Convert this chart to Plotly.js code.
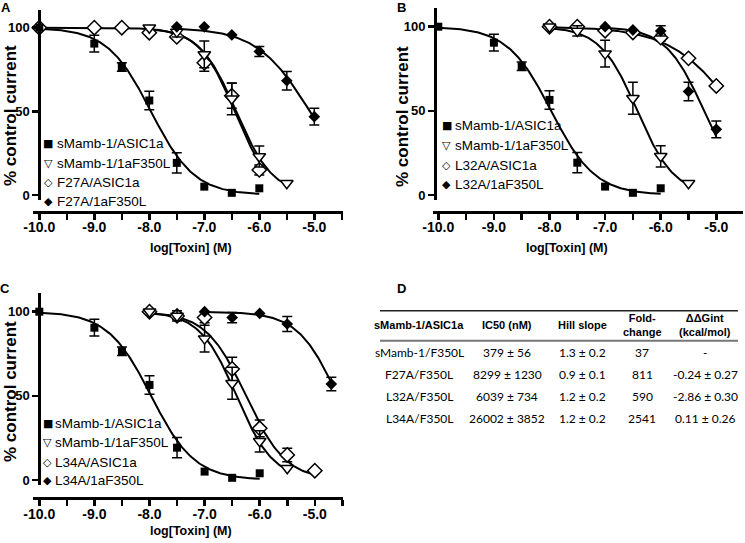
<!DOCTYPE html>
<html><head><meta charset="utf-8">
<script src="https://cdn.plot.ly/plotly-3.0.1.min.js"></script>
<style>html,body{margin:0;padding:0;background:#fff}</style>
</head><body><div id="chart" style="width:745px;height:543px"></div>
<script>
// ---------------- DATA ----------------
const xTickVals = [-10,-9.5,-9,-8.5,-8,-7.5,-7,-6.5,-6,-5.5,-5,-4.5];
const xTickText = ['-10.0','','-9.0','','-8.0','','-7.0','','-6.0','','-5.0',''];
const yTickVals = [0,50,100];
const yTickText = ['0','50','100'];
const panelLetters = ['A','B','C','D'];
const xTitleText = 'log[Toxin] (M)';
const yTitleText = '% control current';

// sMamb-1 / ASIC1a (wild type)
const wtAsicX = [-10,-9,-8.5,-8,-7.5,-7,-6.5,-6];
const wtAsicY = [100,90.5,76.5,56.5,19.2,5.0,1.3,4.0];
const wtAsicErr = [null,5,2.5,5.5,6,null,null,null];
const wtAsicFit = [-7.97,1.1,-10,-6];          // logIC50, Hill slope, from, to

// sMamb-1 / 1aF350L
const wtF350LX = [-8,-7.5,-7,-6.5,-6,-5.5];
const wtF350LY = [100,97.5,84,57.5,23,7];
const wtF350LErr = [null,3,8,9.5,6.3,null];
const wtF350LFit = [-6.42,1.3,-8,-5.5];

// F27A / ASIC1a
const f27aAsicX = [-10,-9,-8.5,-8,-7.5,-7,-6.5,-6];
const f27aAsicY = [100,100,100,97,94.5,79,59.3,15];
const f27aAsicErr = [null,null,null,null,null,5,7.5,3];
const f27aAsicFit = [-6.45,1.35,-10,-6];

// F27A / 1aF350L
const f27aF350LX = [-7.5,-7,-6.5,-6,-5.5,-5];
const f27aF350LY = [100.5,100.5,95.7,85.8,68.3,46.8];
const f27aF350LErr = [null,null,null,3,5.5,5];
const f27aF350LFit = [-5.08,0.9,-7.5,-5];

// L32A / ASIC1a
const l32aAsicX = [-8,-7.5,-7,-6.5,-6,-5.5,-5];
const l32aAsicY = [100,100,97.6,96.6,93.5,81.2,64.8];
const l32aAsicErr = [null,null,null,null,2,null,null];
const l32aAsicFit = [-4.64,0.74,-8,-5];

// L32A / 1aF350L
const l32aF350LX = [-7,-6.5,-6,-5.5,-5];
const l32aF350LY = [100,98,97.5,61.5,39];
const l32aF350LErr = [null,null,3,5.5,5];
const l32aF350LFit = [-5.22,1.25,-7,-5];

// L34A / ASIC1a
const l34aAsicX = [-8,-7.5,-7,-6.5,-6,-5.5,-5];
const l34aAsicY = [100,97.5,96.5,66,30.7,14.9,5.5];
const l34aAsicErr = [null,2,3,7,5,4,null];
const l34aAsicFit = [-6.25,1.2,-8,-5];

// L34A / 1aF350L
const l34aF350LX = [-7,-6.5,-6,-5.5,-4.7];
const l34aF350LY = [100,96.5,99,92.7,57];
const l34aF350LErr = [null,3,null,4.5,4];
const l34aF350LFit = [-4.585,1.2,-7,-4.7];

const legendA = ['sMamb-1/ASIC1a','sMamb-1/1aF350L','F27A/ASIC1a','F27A/1aF350L'];
const legendB = ['sMamb-1/ASIC1a','sMamb-1/1aF350L','L32A/ASIC1a','L32A/1aF350L'];
const legendC = ['sMamb-1/ASIC1a','sMamb-1/1aF350L','L34A/ASIC1a','L34A/1aF350L'];
const legendSymbols = ['\u25A0','\u25BD','\u25C7','\u25C6'];

// table D
const tableHeader = ['sMamb-1/ASIC1a','IC50 (nM)','Hill slope','Fold-<br>change','\u0394\u0394Gint<br>(kcal/mol)'];
const tableNames = ['sMamb-1/F350L','F27A/F350L','L32A/F350L','L34A/F350L'];
const tableIC50 = ['379 \u00b1 56','8299 \u00b1 1230','6039 \u00b1 734','26002 \u00b1 3852'];
const tableHill = ['1.3 \u00b1 0.2','0.9 \u00b1 0.1','1.2 \u00b1 0.2','1.2 \u00b1 0.2'];
const tableFold = ['37','811','590','2541'];
const tableDDG = ['-','-0.24 \u00b1 0.27','-2.86 \u00b1 0.30','0.11 \u00b1 0.26'];

// ---------------- BUILD ----------------
const W = 745, H = 543;
const SANS = '"Liberation Sans", Arial, sans-serif';
const TABLEF = 'Lato, "Open Sans", sans-serif';
const px = v => v / W, py = v => 1 - v / H;

const markerStyles = [
  {symbol:'square', size:8, color:'black'},
  {symbol:'triangle-down', size:11, color:'white', line:{color:'black', width:1.5}},
  {symbol:'diamond', size:11, color:'white', line:{color:'black', width:1.5}},
  {symbol:'diamond', size:9, color:'black'}
];

// pixel geometry of each panel (layout only)
const geom = [
  {x0:33, x1:343, xm10:39.3, xu:55, yTop:10, yBot:200, py100:27.7, py0:195, yAxisX:39.3, xAxisY:212,
   legY:[143.3,163.3,182.7,201], legSymX:48, legTxtX:55, xtX:191, xtY:248, ytX:10, ytY:116, letX:6, letY:8},
  {x0:433, x1:742.7, xm10:438.3, xu:55.6, yTop:8, yBot:200, py100:26.7, py0:195, yAxisX:435, xAxisY:212,
   legY:[126,145.7,165,184.3], legSymX:446.7, legTxtX:453.3, xtX:567, xtY:248, ytX:402, ytY:116, letX:401, letY:8},
  {x0:33, x1:343, xm10:39.3, xu:55.1, yTop:293, yBot:485, py100:311.7, py0:480, yAxisX:39.3, xAxisY:498.3,
   legY:[423.3,442.7,462.3,480.7], legSymX:47.7, legTxtX:53.3, xtX:191, xtY:531, ytX:10, ytY:392, letX:5, letY:288}
];

const panelSeries = [
  [[wtAsicX,wtAsicY,wtAsicErr,wtAsicFit],[wtF350LX,wtF350LY,wtF350LErr,wtF350LFit],[f27aAsicX,f27aAsicY,f27aAsicErr,f27aAsicFit],[f27aF350LX,f27aF350LY,f27aF350LErr,f27aF350LFit]],
  [[wtAsicX,wtAsicY,wtAsicErr,wtAsicFit],[wtF350LX,wtF350LY,wtF350LErr,wtF350LFit],[l32aAsicX,l32aAsicY,l32aAsicErr,l32aAsicFit],[l32aF350LX,l32aF350LY,l32aF350LErr,l32aF350LFit]],
  [[wtAsicX,wtAsicY,wtAsicErr,wtAsicFit],[wtF350LX,wtF350LY,wtF350LErr,wtF350LFit],[l34aAsicX,l34aAsicY,l34aAsicErr,l34aAsicFit],[l34aF350LX,l34aF350LY,l34aF350LErr,l34aF350LFit]]
];
const panelLegends = [legendA, legendB, legendC];

function fitCurve(fit) {
  const [logIC50, n, from, to] = fit;
  const xs = [], ys = [];
  const steps = Math.round((to - from) / 0.02);
  for (let i = 0; i <= steps; i++) {
    const x = from + (to - from) * i / steps;
    xs.push(x);
    ys.push(100 / (1 + Math.pow(10, n * (x - logIC50))));
  }
  return [xs, ys];
}

const traces = [];
const layout = {
  width: W, height: H, margin:{l:0,r:0,t:0,b:0},
  paper_bgcolor:'white', plot_bgcolor:'rgba(0,0,0,0)',
  showlegend:false, annotations:[], shapes:[]
};

function ann(text, x, y, font, extra) {
  layout.annotations.push(Object.assign({text, x:px(x), y:py(y), xref:'paper', yref:'paper',
    showarrow:false, font:Object.assign({color:'black'}, font), xanchor:'center', yanchor:'middle'}, extra||{}));
}

geom.forEach((g, k) => {
  const sfx = k === 0 ? '' : String(k + 1);
  const xa = 'x' + sfx, ya = 'y' + sfx;
  const yu = (g.py0 - g.py100) / 100;
  layout['xaxis' + sfx] = {
    domain:[px(g.x0), px(g.x1)],
    range:[-10 + (g.x0 - g.xm10) / g.xu, -10 + (g.x1 - g.xm10) / g.xu],
    anchor:'free', position:py(g.xAxisY),
    showline:true, linewidth:2.5, linecolor:'black', mirror:false,
    ticks:'outside', ticklen:6, tickwidth:2.5, tickcolor:'black',
    tickmode:'array', tickvals:xTickVals, ticktext:xTickText, ticklabelstandoff:-4,
    tickfont:{family:SANS, size:14, weight:'bold', color:'black'},
    showgrid:false, zeroline:false, fixedrange:true
  };
  layout['yaxis' + sfx] = {
    domain:[py(g.yBot), py(g.yTop)],
    range:[(g.py0 - g.yBot) / yu, (g.py0 - g.yTop) / yu],
    anchor:'free', position:px(g.yAxisX),
    showline:true, linewidth:2.5, linecolor:'black',
    ticks:'outside', ticklen:6, tickwidth:2.5, tickcolor:'black',
    tickmode:'array', tickvals:yTickVals, ticktext:yTickText,
    tickfont:{family:SANS, size:13, weight:'bold', color:'black'},
    showgrid:false, zeroline:false, fixedrange:true
  };
  const ser = panelSeries[k];
  ser.forEach(s => {
    const [cx, cy] = fitCurve(s[3]);
    traces.push({type:'scatter', mode:'lines', x:cx, y:cy, xaxis:xa, yaxis:ya,
      line:{color:'black', width:2}, hoverinfo:'skip', showlegend:false});
  });
  [2, 1, 0, 3].forEach(i => {
    const s = ser[i];
    traces.push({type:'scatter', mode:'markers', x:s[0], y:s[1], xaxis:xa, yaxis:ya,
      name:panelLegends[k][i], cliponaxis:false,
      marker:markerStyles[i],
      error_y:{type:'data', array:s[2].map(e => e == null ? NaN : e), visible:true,
        color:'black', thickness:1.5, width:5}
    });
  });
  panelLegends[k].forEach((name, i) => {
    ann(legendSymbols[i], g.legSymX, g.legY[i], {family:'"DejaVu Sans", sans-serif', size:11});
    ann(name, g.legTxtX, g.legY[i], {family:SANS, size:13.5}, {xanchor:'left'});
  });
  ann(xTitleText, g.xtX, g.xtY, {family:SANS, size:12.5, weight:'bold'});
  ann(yTitleText, g.ytX, g.ytY, {family:SANS, size:17, weight:'bold'}, {textangle:-90});
  ann(panelLetters[k], g.letX, g.letY, {family:SANS, size:13, weight:'bold'});
});

// ---- table D ----
ann(panelLetters[3], 402, 288, {family:SANS, size:13, weight:'bold'});
const colX = [419, 507, 582, 642, 705];
const rowY = [352.7, 374.3, 396.7, 418.3];
layout.shapes.push({type:'line', xref:'paper', yref:'paper', x0:px(380), x1:px(738), y0:py(310.7), y1:py(310.7), line:{color:'#222', width:1.5}});
layout.shapes.push({type:'line', xref:'paper', yref:'paper', x0:px(380), x1:px(738), y0:py(340.7), y1:py(340.7), line:{color:'#777', width:2}});
tableHeader.forEach((h, j) => ann(h, colX[j], 325, {family:SANS, size:11, weight:'bold'}));
const cols = [tableNames, tableIC50, tableHill, tableFold, tableDDG];
cols.forEach((col, j) => col.forEach((v, r) => ann(v, colX[j], rowY[r], {family:TABLEF, size:12})));

Plotly.newPlot('chart', traces, layout, {staticPlot:true, displayModeBar:false});
</script></body></html>
